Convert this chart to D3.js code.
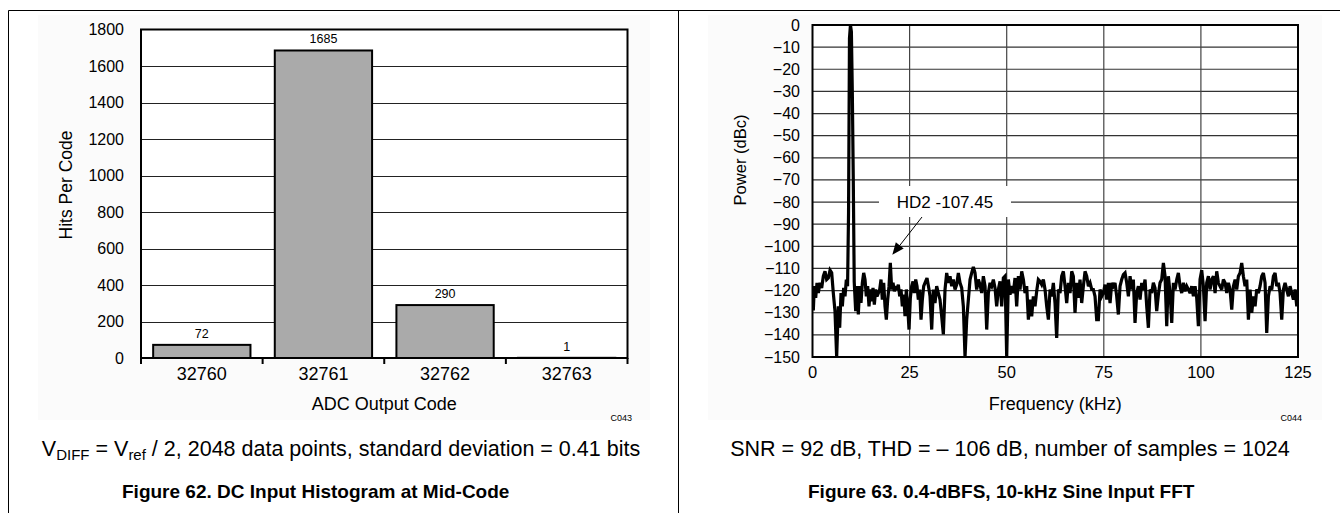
<!DOCTYPE html>
<html><head><meta charset="utf-8">
<script src="https://cdn.jsdelivr.net/npm/d3@7"></script>
<style>
html,body{margin:0;padding:0;background:#fff;}
svg{display:block;font-family:Arial,"Liberation Sans",sans-serif;}
</style></head>
<body>
<svg id="c" width="1340" height="513"></svg>
<script>
// ---------- Figure 62 data ----------
const codes = ["32760", "32761", "32762", "32763"];
const hits = [72, 1685, 290, 1];
const hitTicks = [0, 200, 400, 600, 800, 1000, 1200, 1400, 1600, 1800];

// ---------- Figure 63 data ----------
const freqKHz = [
0.00,0.21,0.47,0.82,1.16,1.50,1.93,2.36,2.79,3.22,3.65,4.08,4.51,4.94,5.36,5.79,6.22,6.65,7.00,7.34,7.68,8.03,8.37,8.71,
9.03,9.28,9.52,9.77,10.01,10.25,10.50,10.74,
11.12,11.46,11.80,12.15,12.49,12.83,13.18,13.52,13.86,14.21,14.55,14.89,15.24,15.58,15.92,16.27,16.61,16.95,17.30,17.64,17.98,18.33,18.67,19.01,19.36,19.70,
20.04,20.39,20.73,21.07,21.42,21.76,22.10,22.45,22.79,23.13,23.48,23.82,24.16,24.51,24.85,25.19,25.54,25.88,26.22,26.57,26.91,27.25,27.60,27.94,28.28,28.63,28.97,29.48,30.00,
30.26,30.69,31.11,31.54,31.97,32.40,32.83,33.26,33.69,34.12,34.55,34.98,35.41,35.84,36.26,36.69,37.12,37.55,37.98,38.41,38.84,39.27,39.70,
40.13,40.56,40.99,41.41,41.84,42.27,42.70,43.13,43.56,43.99,44.42,44.85,45.28,45.71,46.14,46.56,46.99,47.42,47.85,48.28,48.71,49.14,49.57,
50.00,50.43,50.86,51.29,51.71,52.14,52.57,53.00,53.43,53.86,54.29,54.72,55.15,55.58,56.01,56.44,56.86,57.29,57.72,58.15,58.58,59.01,59.44,59.87,
60.30,60.73,61.16,61.59,62.01,62.44,62.87,63.30,63.73,64.16,64.59,65.02,65.45,65.88,66.31,66.74,67.16,67.59,68.02,68.45,68.88,69.31,69.74,
70.17,70.60,71.03,71.46,71.89,72.31,72.74,73.17,73.60,74.03,74.46,74.89,75.32,75.75,76.18,76.61,77.04,77.46,77.89,78.32,78.75,79.18,79.61,
80.04,80.47,80.90,81.33,81.76,82.19,82.61,83.04,83.47,83.90,84.33,84.76,85.19,85.62,86.05,86.48,86.91,87.34,87.76,88.19,88.62,89.05,89.48,89.91,
90.34,90.77,91.20,91.63,92.06,92.49,92.92,93.35,93.78,94.20,94.63,95.06,95.49,95.92,96.35,96.78,97.21,97.64,98.07,98.50,98.92,99.35,99.78,
100.21,100.64,101.07,101.50,101.93,102.36,102.79,103.22,103.65,104.07,104.50,104.93,105.36,105.79,106.22,106.65,107.08,107.51,107.94,108.37,108.80,109.22,109.65,
110.08,110.51,110.94,111.37,111.80,112.23,112.66,113.09,113.52,113.95,114.37,114.80,115.23,115.66,116.09,116.52,116.95,117.38,117.81,118.24,118.67,119.10,119.52,119.95,
120.38,120.81,121.24,121.67,122.10,122.53,122.96,123.39,123.82,124.25,124.68,125.00];
const powerDBc = [
-122,-129,-118,-123.3,-116.5,-121.1,-116.5,-118.8,-113.5,-111.3,-115,-114.3,-110.8,-112,-121.1,-129.3,-150,-127.1,-136.8,-121.1,-127.1,-118.8,-122.6,-115,
-118,-85,-6,0,-3,-30,-70,-116,
-129.3,-118,-130.8,-118,-125.6,-116.5,-112,-115,-122.6,-118,-127.1,-119.5,-124.8,-118.8,-126.3,-119.5,-122.6,-121.1,-119.5,-115,-124.1,-116.5,-127.1,-133.1,-124.1,-118,
-107.45,-119.5,-116.5,-120.3,-118,-119.5,-117.3,-122.6,-119.5,-127.1,-121.8,-131.6,-119.5,-127.1,-137.6,-123.3,-118,-115.8,-121.1,-115,-118,-124.1,-119.5,-133.1,-124.1,-118,-116.5,-114.3,-119.5,
-122.6,-137.6,-119.5,-125.6,-118,-121.1,-124.1,-131.6,-139.8,-119.5,-112,-116.5,-113.5,-118,-115,-119.5,-117.3,-112,-116.5,-118.8,-127.1,-150,-133.1,
-124.1,-115,-112,-109.3,-112,-119.5,-115,-117.3,-121.1,-113.5,-118,-137.6,-121.1,-116.5,-118,-115,-118.8,-127.1,-119.5,-115.8,-127.1,-114.3,-113.5,
-150,-115,-121.8,-118,-121.1,-114.3,-127.1,-113.5,-119.5,-111.3,-115,-121.1,-118,-133.1,-124.1,-131.6,-122.6,-127.1,-120.3,-115,-115.8,-117.3,-115,-119.5,
-127.1,-133.1,-119.5,-122.6,-116.5,-125.6,-141.4,-119.5,-121.1,-113.5,-111.3,-118,-125.6,-116.5,-121.1,-111.3,-113.5,-130.1,-116.5,-123.3,-115,-125.6,-118,
-111.3,-113.5,-118,-116.5,-119.5,-119.5,-122.6,-133.1,-133.1,-119.5,-122.6,-121.1,-117.3,-124.1,-116.5,-125.6,-116.5,-118,-116.5,-122.6,-130.8,-118,-115,
-112.8,-112,-116.5,-122.6,-113.5,-119.5,-115,-134.6,-121.1,-118,-124.1,-116.5,-119.5,-115,-127.1,-136.8,-119.5,-121.1,-116.5,-118.8,-129.3,-121.8,-116.5,-115,
-107.5,-113.5,-136.1,-113.5,-121.1,-134.6,-116.5,-119.5,-115,-112,-118,-121.1,-116.5,-120.3,-118,-119.5,-121.1,-118,-122.6,-118,-123.3,-136.1,-115,
-110.8,-118,-133.8,-116.5,-113.5,-119.5,-115,-113.5,-121.1,-111.3,-116.5,-118,-119.5,-115,-116.5,-121.1,-116.5,-119.5,-128.6,-118,-115,-119.5,-113.5,
-112,-107.5,-113.5,-118,-115,-133.1,-119.5,-130.1,-122.6,-127.1,-119.5,-121.1,-118,-113.5,-112,-116.5,-139.1,-122.6,-118,-119.5,-113.5,-112,-118,-116.5,
-121.1,-133.1,-119.5,-116.5,-119.5,-122.6,-118,-121.1,-124.1,-119.5,-127.1,-120];
const freqTicks = [0, 25, 50, 75, 100, 125];
const powerTicks = [0,-10,-20,-30,-40,-50,-60,-70,-80,-90,-100,-110,-120,-130,-140,-150];
const hd2 = {f: 20.04, p: -107.45, label: "HD2 -107.45"};

const svg = d3.select("#c");

// page frame
svg.append("line").attr("x1",8.5).attr("x2",1340).attr("y1",10.5).attr("y2",10.5).attr("stroke","#000").attr("stroke-width",1);
svg.append("line").attr("x1",8.5).attr("x2",8.5).attr("y1",10.5).attr("y2",513).attr("stroke","#000").attr("stroke-width",1);
svg.append("line").attr("x1",678.5).attr("x2",678.5).attr("y1",10.5).attr("y2",513).attr("stroke","#000").attr("stroke-width",1);

// faint chart backgrounds
svg.append("rect").attr("x",38).attr("y",15).attr("width",612).attr("height",405).attr("fill","#fbfbfb");
svg.append("rect").attr("x",708).attr("y",15).attr("width",614).attr("height",405).attr("fill","#fbfbfb");

// ================= LEFT: histogram =================
{
  const L = {l:141, r:627.5, t:29.5, b:358};
  const x = d3.scaleBand().domain(codes).range([L.l, L.r]).paddingInner(0.2).paddingOuter(0.1);
  const y = d3.scaleLinear().domain([0,1800]).range([L.b, L.t]);
  const g = svg.append("g");
  g.append("rect").attr("x",L.l).attr("y",L.t).attr("width",L.r-L.l).attr("height",L.b-L.t).attr("fill","#fff");
  g.append("g").selectAll("line").data(hitTicks.filter(v=>v>0 && v<1800)).join("line")
    .attr("x1",L.l).attr("x2",L.r).attr("y1",d=>Math.round(y(d))+0.5).attr("y2",d=>Math.round(y(d))+0.5)
    .attr("stroke","#222").attr("stroke-width",1);
  g.append("g").selectAll("rect").data(codes).join("rect")
    .attr("x",d=>x(d)).attr("width",x.bandwidth())
    .attr("y",(d,i)=>y(hits[i])).attr("height",(d,i)=>L.b-y(hits[i]))
    .attr("fill","#aaaaaa").attr("stroke","#000").attr("stroke-width",2);
  g.append("g").selectAll("text").data(codes).join("text")
    .attr("x",d=>x(d)+x.bandwidth()/2).attr("y",(d,i)=>y(hits[i])-7)
    .attr("text-anchor","middle").attr("font-size",12.5).text((d,i)=>hits[i]);
  g.append("rect").attr("x",L.l).attr("y",L.t).attr("width",L.r-L.l).attr("height",L.b-L.t)
    .attr("fill","none").attr("stroke","#000").attr("stroke-width",2);
  const step = x.step();
  const bounds = codes.map(c=>x(c)-x.paddingInner()*step/2).concat([L.r]);
  g.append("g").selectAll("line").data(bounds).join("line")
    .attr("x1",d=>d).attr("x2",d=>d).attr("y1",L.b).attr("y2",L.b+6)
    .attr("stroke","#000").attr("stroke-width",2);
  g.append("g").selectAll("text").data(codes).join("text")
    .attr("x",d=>x(d)+x.bandwidth()/2).attr("y",380).attr("text-anchor","middle")
    .attr("font-size",18).text(d=>d);
  g.append("g").selectAll("text").data(hitTicks).join("text")
    .attr("x",124).attr("y",d=>y(d)+5.5).attr("text-anchor","end").attr("font-size",16).text(d=>d);
  g.append("text").attr("transform",`translate(72,185) rotate(-90)`).attr("text-anchor","middle")
    .attr("font-size",17.5).text("Hits Per Code");
  g.append("text").attr("x",(L.l+L.r)/2).attr("y",410).attr("text-anchor","middle").attr("font-size",18).text("ADC Output Code");
  g.append("text").attr("x",632).attr("y",421).attr("text-anchor","end").attr("font-size",9).text("C043");
  const cap = g.append("text").attr("x",341).attr("y",456).attr("text-anchor","middle").attr("font-size",21.5);
  cap.append("tspan").text("V");
  cap.append("tspan").attr("font-size",15).attr("dy",4).text("DIFF");
  cap.append("tspan").attr("dy",-4).text(" = V");
  cap.append("tspan").attr("font-size",15).attr("dy",4).text("ref");
  cap.append("tspan").attr("dy",-4).text(" / 2, 2048 data points, standard deviation = 0.41 bits");
  g.append("text").attr("x",122).attr("y",498).attr("text-anchor","start").attr("font-size",19).attr("font-weight","bold")
    .text("Figure 62. DC Input Histogram at Mid-Code");
}

// ================= RIGHT: FFT =================
{
  const R = {l:812.5, r:1298, t:25, b:357};
  const x = d3.scaleLinear().domain([0,125]).range([R.l, R.r]);
  const y = d3.scaleLinear().domain([-150,0]).range([R.b, R.t]);
  const g = svg.append("g");
  g.append("rect").attr("x",R.l).attr("y",R.t).attr("width",R.r-R.l).attr("height",R.b-R.t).attr("fill","#fff");
  g.append("defs").append("clipPath").attr("id","clipR").append("rect")
    .attr("x",R.l).attr("y",R.t-2).attr("width",R.r-R.l).attr("height",R.b-R.t+2);
  g.append("g").selectAll("line").data(powerTicks.filter(v=>v>-150 && v<0)).join("line")
    .attr("x1",R.l).attr("x2",R.r).attr("y1",d=>y(d)).attr("y2",d=>y(d))
    .attr("stroke","#333").attr("stroke-width",1.2);
  g.append("g").selectAll("line").data(freqTicks.filter(v=>v>0 && v<125)).join("line")
    .attr("x1",d=>x(d)).attr("x2",d=>x(d)).attr("y1",R.t).attr("y2",R.b)
    .attr("stroke","#444").attr("stroke-width",1.2);
  g.append("rect").attr("x",879).attr("y",186).attr("width",132).attr("height",31).attr("fill","#fff");
  const pts = freqKHz.map((f,i)=>[f, powerDBc[i]]);
  g.append("path").datum(pts).attr("clip-path","url(#clipR)")
    .attr("d", d3.line().x(d=>x(d[0])).y(d=>y(d[1])))
    .attr("fill","none").attr("stroke","#000").attr("stroke-width",3.2).attr("stroke-linejoin","miter").attr("stroke-miterlimit",3);
  g.append("text").attr("x",945).attr("y",208).attr("text-anchor","middle").attr("font-size",17).text(hd2.label);
  const tipX = x(hd2.f)+2, tipY = y(hd2.p)-8;
  g.append("line").attr("x1",922).attr("y1",217).attr("x2",tipX+4).attr("y2",tipY-5).attr("stroke","#000").attr("stroke-width",1);
  const ang = Math.atan2(tipY-217, tipX-922);
  const hl = 12, hw = 5;
  const bx = tipX - hl*Math.cos(ang), by = tipY - hl*Math.sin(ang);
  g.append("path").attr("d",`M${tipX},${tipY}L${bx+hw*Math.sin(ang)},${by-hw*Math.cos(ang)}L${bx-hw*Math.sin(ang)},${by+hw*Math.cos(ang)}Z`).attr("fill","#000");
  g.append("rect").attr("x",R.l).attr("y",R.t).attr("width",R.r-R.l).attr("height",R.b-R.t)
    .attr("fill","none").attr("stroke","#000").attr("stroke-width",2);
  g.append("g").selectAll("text").data(freqTicks).join("text")
    .attr("x",d=>x(d)).attr("y",378).attr("text-anchor","middle").attr("font-size",16.5).text(d=>d);
  g.append("g").selectAll("text").data(powerTicks).join("text")
    .attr("x",800).attr("y",d=>y(d)+5.5).attr("text-anchor","end").attr("font-size",16)
    .text(d=>d===0?"0":"\u2212"+Math.abs(d));
  g.append("text").attr("transform",`translate(746,160) rotate(-90)`).attr("text-anchor","middle")
    .attr("font-size",16.5).text("Power (dBc)");
  g.append("text").attr("x",(R.l+R.r)/2).attr("y",410).attr("text-anchor","middle").attr("font-size",18).text("Frequency (kHz)");
  g.append("text").attr("x",1302).attr("y",421).attr("text-anchor","end").attr("font-size",9).text("C044");
  g.append("text").attr("x",1010).attr("y",456).attr("text-anchor","middle").attr("font-size",21.5)
    .text("SNR = 92 dB, THD = \u2013 106 dB, number of samples = 1024");
  g.append("text").attr("x",808).attr("y",498).attr("text-anchor","start").attr("font-size",19).attr("font-weight","bold")
    .text("Figure 63. 0.4-dBFS, 10-kHz Sine Input FFT");
}
</script>
</body></html>
